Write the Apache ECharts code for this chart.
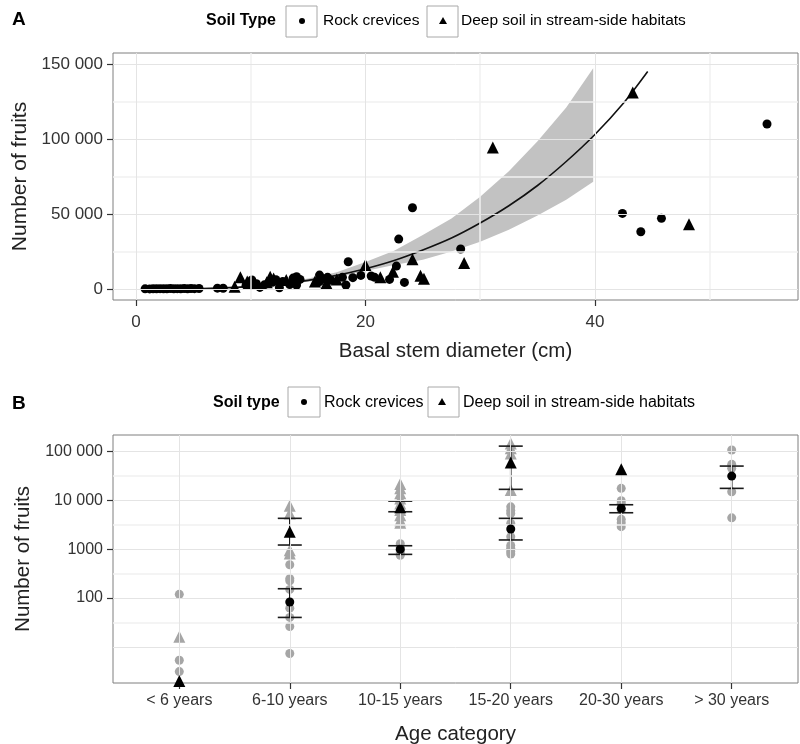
<!DOCTYPE html>
<html><head><meta charset="utf-8">
<script src="https://cdn.jsdelivr.net/npm/echarts@6/dist/echarts.min.js"></script>
<style>html,body{margin:0;padding:0;background:#fff}#c{width:800px;height:744px}</style>
</head><body><div id="c"></div>
<script>
// ================= Panel A data =================
const rockDiam   = [0.8,1.2,1.5,1.8,2.1,2.4,2.7,3.0,3.3,3.6,3.9,4.2,4.5,4.8,5.1,5.5,7.1,7.6,9.6,10.1,10.1,10.5,10.8,11.2,11.9,12.2,12.5,12.8,13.4,13.7,14.0,14.0,14.3,16.0,16.0,16.3,16.7,17.0,18.0,18.3,18.5,18.9,19.6,20.5,20.8,22.1,22.7,22.9,23.4,24.1,28.3,42.4,44.0,45.8,55.0];
const rockFruits = [150,100,200,150,250,120,200,300,180,250,150,300,200,350,250,400,600,500,2500,4900,6000,3500,1100,2800,4500,6200,900,5000,3000,7300,8200,2700,6400,9300,4900,6800,7800,5800,7800,2700,18200,7600,9100,8700,7800,6400,15300,33300,4400,54200,26700,50400,38200,47100,110000];
const deepDiam   = [8.6,9.1,9.7,10.0,11.4,11.7,12.0,13.1,15.6,16.6,17.5,20.0,21.3,22.4,24.1,24.8,25.1,28.6,31.1,43.3,48.2];
const deepFruits = [1500,7800,5000,3800,4500,8200,7000,6000,5000,3800,6400,16000,7800,11600,19800,8800,6800,17300,94400,131000,43100];
const fitDiam    = [0.8,3,5,7.5,10,12.5,15,17.5,20,22.5,25,27.5,30,32.5,35,37.5,40,42.5,44.6];
const fitFruits  = [10,50,230,750,1800,3400,5800,9100,13500,19000,26000,34000,44000,55500,69000,85000,103000,124000,145000];
const bandDiam   = [10,12.5,15,17.5,20,22.5,25,27.5,30,32.5,35,37.5,39.85];
const bandLow    = [1500,2900,4900,7800,12000,16000,19500,25000,31500,39500,49000,59500,71500];
const bandHigh   = [2100,4000,7000,11200,18000,25500,36000,47000,61500,78500,98500,121000,147100];
const xTicksA = [0,20,40];
const xMinorA = [10,30,50];
const yTicksA = [0,50000,100000,150000];
const yTickLabelsA = ['0','50 000','100 000','150 000'];
const yMinorA = [25000,75000,125000];

// ================= Panel B data =================
const ageCategories = ['< 6 years','6-10 years','10-15 years','15-20 years','20-30 years','> 30 years'];
const rockByAge = [
  [119,5.3,3.1],
  [480,250,225,150,62,40,26,7.3],
  [1300,1100,950,850,750],
  [7400,6200,5400,3400,1800,1200,1050,900,800],
  [17700,9900,8700,6400,4100,3500,2900],
  [108000,55000,45500,15100,4400]
];
const deepByAge = [
  [16],
  [7800,5400,950,820],
  [21700,17700,14000,11000,8700,6400,5000,3950,3500],
  [148000,117000,92000,16300],
  [],
  []
];
const rockMean = [null,83,1000,2600,6900,31600];
const rockLow  = [null,40,785,1550,5600,17700];
const rockHigh = [null,155,1180,4300,8170,50700];
const deepMean = [2,2290,7230,60000,43400,null];
const deepLow  = [null,1220,5870,16900,null,null];
const deepHigh = [null,4300,9700,130000,null,null];
const yTicksB = [100,1000,10000,100000];
const yTickLabelsB = ['100','1000','10 000','100 000'];
const yGridB = [10,100,1000,10000,100000];
const yMinorB = [31.62,316.2,3162,31623];

// ================= build =================
const FF = '"Liberation Sans",Arial,Helvetica,sans-serif';
const pairs = (xs, ys) => xs.map((x, i) => [x, ys[i]]);
const catPos = ageCategories.map((c, i) => i + 1);

const grayRock = [], grayDeep = [], meanRock = [], meanDeep = [], barsB = [];
ageCategories.forEach((c, i) => {
  rockByAge[i].forEach(v => grayRock.push([catPos[i], v]));
  deepByAge[i].forEach(v => grayDeep.push([catPos[i], v]));
  if (rockMean[i] != null) meanRock.push([catPos[i], rockMean[i]]);
  if (deepMean[i] != null) meanDeep.push([catPos[i], deepMean[i]]);
  if (rockLow[i] != null) barsB.push([catPos[i], rockLow[i], rockHigh[i]]);
  if (deepLow[i] != null) barsB.push([catPos[i], deepLow[i], deepHigh[i]]);
});

const majorStyle = {color:'#e4e4e4', width:1, type:'solid'};
const minorStyle = {color:'#f0f0f0', width:1.5, type:'solid'};
function gridSeries(xi, yi, xs, ys, style) {
  return {
    type:'line', xAxisIndex:xi, yAxisIndex:yi, data:[], silent:true, z:1,
    markLine:{silent:true, symbol:['none','none'], animation:false, label:{show:false},
      lineStyle:style,
      data: xs.map(v => ({xAxis:v})).concat(ys.map(v => ({yAxis:v})))}
  };
}
function errorBarRender(params, api) {
  const x = api.value(0), lo = api.value(1), hi = api.value(2);
  const t = api.coord([x, hi]), b = api.coord([x, lo]);
  const w = 12, st = {stroke:'#1a1a1a', lineWidth:1.6};
  return {type:'group', children:[
    {type:'line', shape:{x1:t[0], y1:t[1], x2:b[0], y2:b[1]}, style:st},
    {type:'line', shape:{x1:t[0]-w, y1:t[1], x2:t[0]+w, y2:t[1]}, style:st},
    {type:'line', shape:{x1:b[0]-w, y1:b[1], x2:b[0]+w, y2:b[1]}, style:st}
  ]};
}
function bandRender(params, api) {
  if (params.dataIndex !== 0) return null;
  const up = bandDiam.map((d, i) => api.coord([d, bandHigh[i]]));
  const lo = bandDiam.map((d, i) => api.coord([d, bandLow[i]])).reverse();
  return {type:'polygon', shape:{points: up.concat(lo)}, style:{fill:'#c2c2c2'}};
}

const axisTextA = {color:'#333', fontFamily:FF, fontSize:17};
const axisTextB = {color:'#333', fontFamily:FF, fontSize:16};
const tickStyle = {show:true, length:6, lineStyle:{color:'#333', width:1.2}};
const black = {color:'#000', opacity:1};
const gray = {color:'#a6a6a6', opacity:1};

const option = {
  animation:false,
  backgroundColor:'#fff',
  grid:[
    {left:113, right:2, top:53, bottom:444, show:true, borderColor:'#7f7f7f', borderWidth:1, backgroundColor:'#fff', containLabel:false, outerBoundsMode:'none'},
    {left:113, right:2, top:435, bottom:61, show:true, borderColor:'#7f7f7f', borderWidth:1, backgroundColor:'#fff', containLabel:false, outerBoundsMode:'none'}
  ],
  xAxis:[
    {type:'value', gridIndex:0, min:-2, max:57.7,
     axisLine:{show:false, onZero:false}, splitLine:{show:false},
     axisTick:Object.assign({customValues:xTicksA}, tickStyle),
     axisLabel:Object.assign({customValues:xTicksA, margin:14, formatter:v => String(v)}, axisTextA),
     name:'Basal stem diameter (cm)', nameLocation:'middle', nameGap:41,
     nameTextStyle:{fontFamily:FF, fontSize:20.5, color:'#222'}},
    {type:'value', gridIndex:1, min:0.4, max:6.6,
     axisLine:{show:false, onZero:false}, splitLine:{show:false},
     axisTick:Object.assign({customValues:catPos}, tickStyle),
     axisLabel:Object.assign({customValues:catPos, margin:10, formatter:v => ageCategories[Math.round(v)-1]}, axisTextB),
     name:'Age category', nameLocation:'middle', nameGap:41,
     nameTextStyle:{fontFamily:FF, fontSize:20.5, color:'#222'}}
  ],
  yAxis:[
    {type:'value', gridIndex:0, min:-7300, max:157300,
     axisLine:{show:false, onZero:false}, splitLine:{show:false},
     axisTick:Object.assign({customValues:yTicksA}, tickStyle),
     axisLabel:Object.assign({customValues:yTicksA, margin:10, formatter:v => yTickLabelsA[yTicksA.indexOf(v)]}, axisTextA),
     name:'Number of fruits', nameLocation:'middle', nameGap:78,
     nameTextStyle:{fontFamily:FF, fontSize:21, color:'#222'}},
    {type:'log', logBase:10, gridIndex:1, min:1.81, max:219800,
     axisLine:{show:false, onZero:false}, splitLine:{show:false}, minorSplitLine:{show:false},
     axisTick:Object.assign({customValues:yTicksB}, tickStyle),
     axisLabel:Object.assign({customValues:yTicksB, margin:10, formatter:v => yTickLabelsB[yTicksB.indexOf(Math.round(v))]}, axisTextB),
     name:'Number of fruits', nameLocation:'middle', nameGap:77,
     nameTextStyle:{fontFamily:FF, fontSize:20.5, color:'#222'}}
  ],
  series:[
    gridSeries(0,0,xMinorA,yMinorA,minorStyle),
    gridSeries(0,0,xTicksA,yTicksA,majorStyle),
    gridSeries(1,1,[],yMinorB,minorStyle),
    gridSeries(1,1,catPos,yGridB,majorStyle),
    {type:'custom', xAxisIndex:0, yAxisIndex:0, z:2, clip:true, silent:true,
     data:pairs(bandDiam, bandLow).map((p,i)=>[p[0],p[1],bandHigh[i]]), renderItem:bandRender,
     encode:{x:0, y:[1,2]}},
    {type:'line', xAxisIndex:0, yAxisIndex:0, z:3, data:pairs(fitDiam, fitFruits), symbol:'none', smooth:0.3,
     lineStyle:{color:'#111', width:1.6}},
    {name:'Rock crevices', type:'scatter', xAxisIndex:0, yAxisIndex:0, z:4, data:pairs(rockDiam, rockFruits),
     symbol:'circle', symbolSize:9, itemStyle:black},
    {name:'Deep soil in stream-side habitats', type:'scatter', xAxisIndex:0, yAxisIndex:0, z:4, data:pairs(deepDiam, deepFruits),
     symbol:'triangle', symbolSize:12, itemStyle:black},
    {type:'scatter', xAxisIndex:1, yAxisIndex:1, z:3, data:grayRock, symbol:'circle', symbolSize:9, itemStyle:gray},
    {type:'scatter', xAxisIndex:1, yAxisIndex:1, z:3, data:grayDeep, symbol:'triangle', symbolSize:12, itemStyle:gray},
    {type:'custom', xAxisIndex:1, yAxisIndex:1, z:4, data:barsB, renderItem:errorBarRender, encode:{x:0, y:[1,2]}, silent:true},
    {type:'scatter', xAxisIndex:1, yAxisIndex:1, z:5, data:meanRock, symbol:'circle', symbolSize:9, itemStyle:black},
    {type:'scatter', xAxisIndex:1, yAxisIndex:1, z:5, data:meanDeep, symbol:'triangle', symbolSize:12, itemStyle:black}
  ],
  graphic:[
    {type:'text', x:12, y:20, style:{text:'A', font:'bold 19px '+FF, fill:'#000', verticalAlign:'middle'}},
    {type:'text', x:12, y:404, style:{text:'B', font:'bold 19px '+FF, fill:'#000', verticalAlign:'middle'}},
    // legend A
    {type:'text', x:206, y:21, style:{text:'Soil Type', font:'bold 16px '+FF, fill:'#000', verticalAlign:'middle'}},
    {type:'rect', shape:{x:286, y:6, width:31, height:31}, style:{fill:'#fff', stroke:'#a8a8a8', lineWidth:1}},
    {type:'circle', shape:{cx:302, cy:21, r:3}, style:{fill:'#000'}},
    {type:'text', x:323, y:21, style:{text:'Rock crevices', font:'15.5px '+FF, fill:'#000', verticalAlign:'middle'}},
    {type:'rect', shape:{x:427, y:6, width:31, height:31}, style:{fill:'#fff', stroke:'#a8a8a8', lineWidth:1}},
    {type:'polygon', shape:{points:[[443,17],[447,24],[439,24]]}, style:{fill:'#000'}},
    {type:'text', x:461, y:21, style:{text:'Deep soil in stream-side habitats', font:'15.5px '+FF, fill:'#000', verticalAlign:'middle'}},
    // legend B
    {type:'text', x:213, y:403, style:{text:'Soil type', font:'bold 16px '+FF, fill:'#000', verticalAlign:'middle'}},
    {type:'rect', shape:{x:288, y:387, width:32, height:30}, style:{fill:'#fff', stroke:'#a8a8a8', lineWidth:1}},
    {type:'circle', shape:{cx:304, cy:402, r:3}, style:{fill:'#000'}},
    {type:'text', x:324, y:403, style:{text:'Rock crevices', font:'16px '+FF, fill:'#000', verticalAlign:'middle'}},
    {type:'rect', shape:{x:428, y:387, width:31, height:30}, style:{fill:'#fff', stroke:'#a8a8a8', lineWidth:1}},
    {type:'polygon', shape:{points:[[442,398],[446,405],[438,405]]}, style:{fill:'#000'}},
    {type:'text', x:463, y:403, style:{text:'Deep soil in stream-side habitats', font:'16px '+FF, fill:'#000', verticalAlign:'middle'}}
  ]
};
const chart = echarts.init(document.getElementById('c'), null, {renderer:'canvas'});
chart.setOption(option);
</script></body></html>
